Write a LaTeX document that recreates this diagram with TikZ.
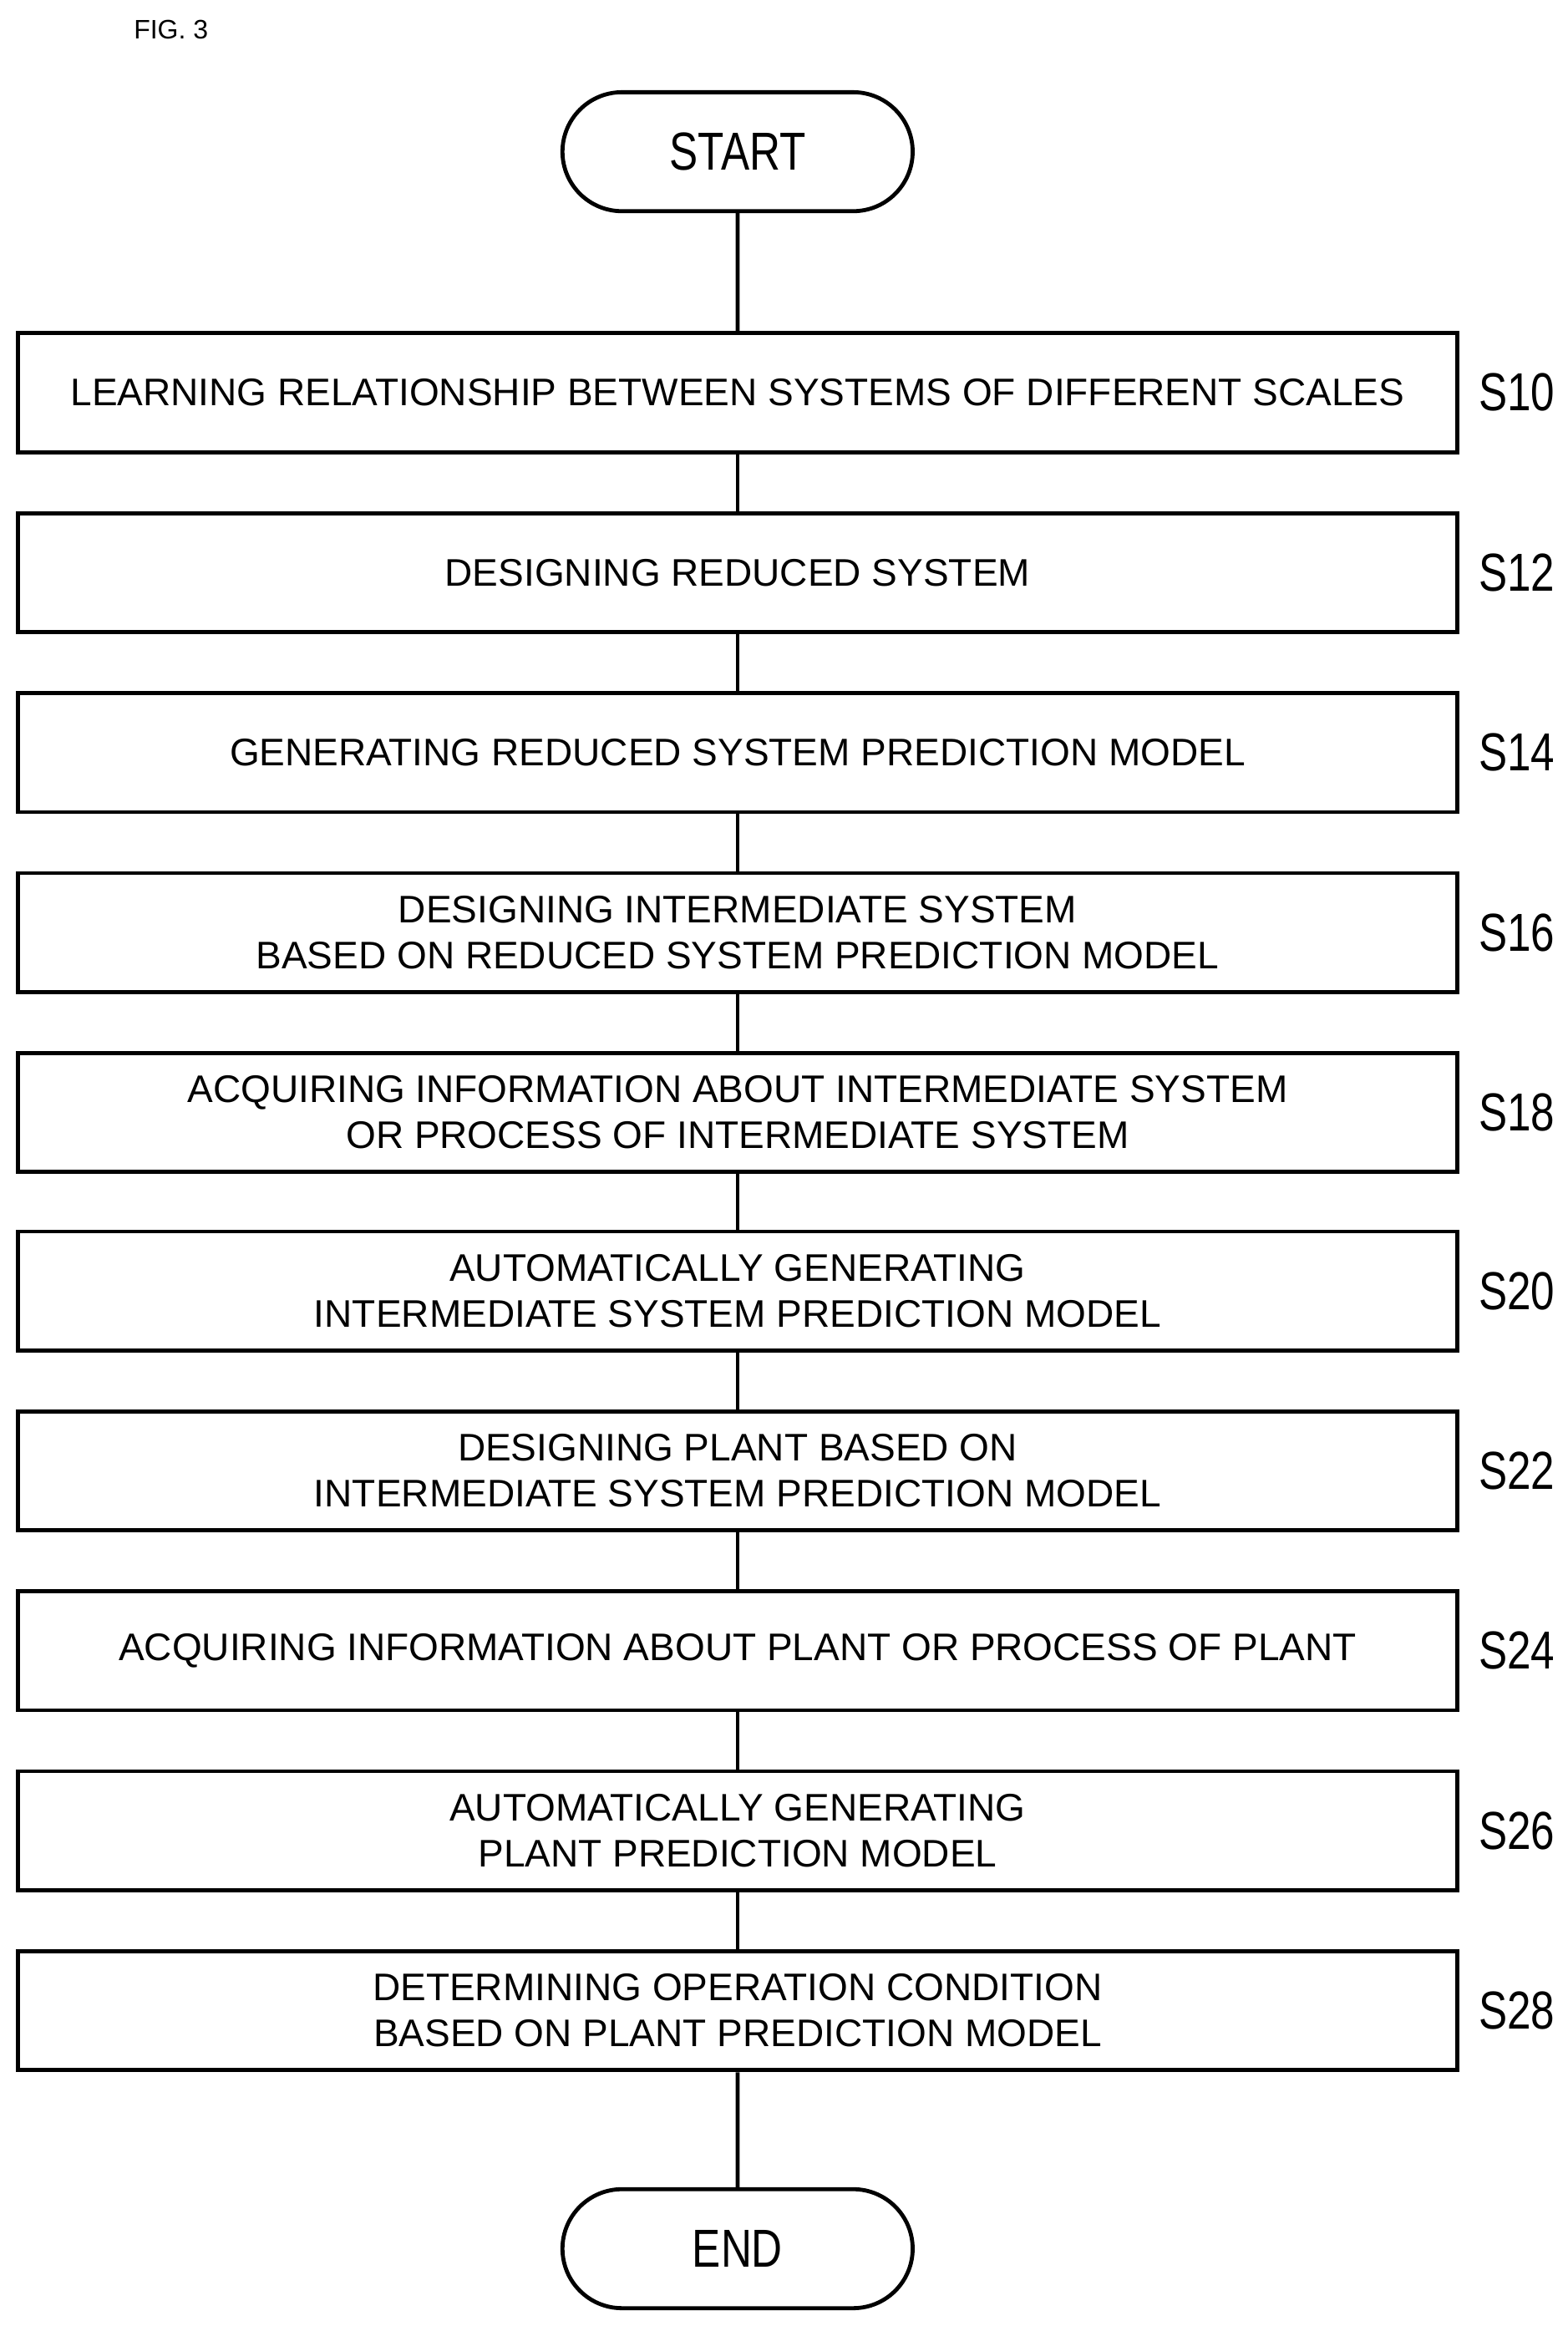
\documentclass[tikz,border=0pt]{standalone}
\usepackage{fontspec}
\setmainfont{Liberation Sans}
\usetikzlibrary{shapes.misc}
\begin{document}
\begin{tikzpicture}[x=0.89pt,y=-0.89pt,
  stepbox/.style={draw,line width=2.4pt,minimum width=968*0.89pt,minimum height=80*0.89pt,align=center,font=\fontsize{23}{27.5}\selectfont,inner sep=0pt},
  term/.style={draw,line width=2.4pt,rounded rectangle,minimum width=243*0.89pt,minimum height=80*0.89pt,font=\fontsize{32}{36}\selectfont},
  lab/.style={font=\fontsize{32}{36}\selectfont,anchor=center},
  conn/.style={line width=2.4pt}]
\useasboundingbox (0,0) rectangle (1054,1564);
\node[anchor=center,font=\fontsize{16}{19}\selectfont] (fig) at (115,20) {FIG. 3};
\node[term] (start) at (496,102) {\scalebox{0.8}[1]{START}};
\node[term] (end) at (496,1512) {\scalebox{0.8}[1]{END}};
\foreach \i/\y/\t/\s in {
 1/264/{LEARNING RELATIONSHIP BETWEEN SYSTEMS OF DIFFERENT SCALES}/S10,
 2/385/{DESIGNING REDUCED SYSTEM}/S12,
 3/506/{GENERATING REDUCED SYSTEM PREDICTION MODEL}/S14,
 4/627/{DESIGNING INTERMEDIATE SYSTEM\\BASED ON REDUCED SYSTEM PREDICTION MODEL}/S16,
 5/748/{ACQUIRING INFORMATION ABOUT INTERMEDIATE SYSTEM\\OR PROCESS OF INTERMEDIATE SYSTEM}/S18,
 6/868/{AUTOMATICALLY GENERATING\\INTERMEDIATE SYSTEM PREDICTION MODEL}/S20,
 7/989/{DESIGNING PLANT BASED ON\\INTERMEDIATE SYSTEM PREDICTION MODEL}/S22,
 8/1110/{ACQUIRING INFORMATION ABOUT PLANT OR PROCESS OF PLANT}/S24,
 9/1231/{AUTOMATICALLY GENERATING\\PLANT PREDICTION MODEL}/S26,
 10/1352/{DETERMINING OPERATION CONDITION\\BASED ON PLANT PREDICTION MODEL}/S28}{
  \node[stepbox] (b\i) at (496,\y) {\t};
  \node[lab] (l\i) at (1020,\y) {\scalebox{0.8}[1]{\s}};
}
\draw[conn] (start) -- (b1);
\foreach \a/\b in {1/2,2/3,3/4,4/5,5/6,6/7,7/8,8/9,9/10}{\draw[conn] (b\a) -- (b\b);}
\draw[conn] (b10) -- (end);
\end{tikzpicture}
\end{document}
